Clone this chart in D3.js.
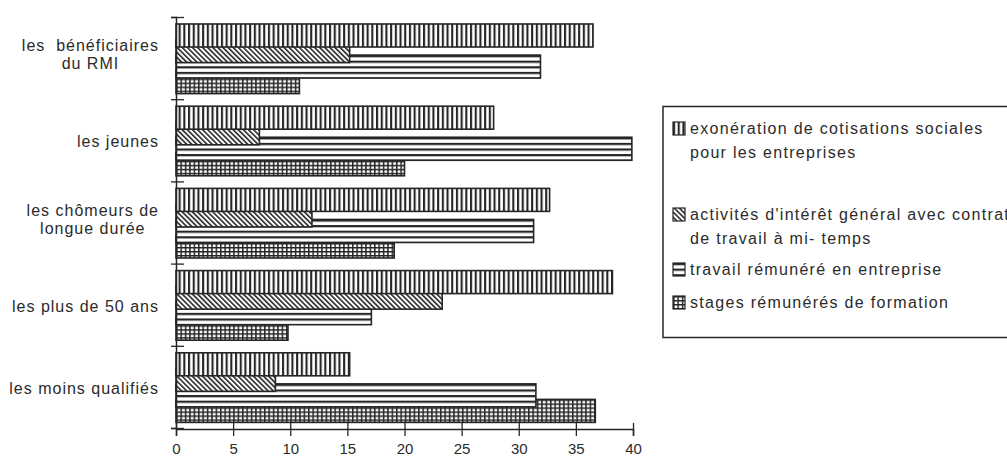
<!DOCTYPE html>
<html>
<head>
<meta charset="utf-8">
<script src="https://cdn.jsdelivr.net/npm/d3@7"></script>
<style>
  html, body { margin: 0; padding: 0; background: #fff; }
  svg { display: block; }
  text { font-family: "Liberation Sans", Arial, Helvetica, sans-serif; fill: #2b2b2b; white-space: pre; }
</style>
</head>
<body>
<svg id="chart" width="1007" height="465"></svg>
<script>
// Publics ciblés (each entry is the list of lines of its label)
const categories = [
  ["les  bénéficiaires", "du RMI"],
  ["les jeunes"],
  ["les chômeurs de", "longue durée"],
  ["les plus de 50 ans"],
  ["les moins qualifiés"]
];

// Values of the four measures, one per public
const exoneration = [36.5, 27.8, 32.7, 38.2, 15.2];
const activites   = [15.2, 7.3, 11.9, 23.3, 8.7];
const travail     = [31.9, 39.9, 31.3, 17.1, 31.5];
const stages      = [10.8, 20.0, 19.1, 9.8, 36.7];

const seriesNames = [
  ["exonération de cotisations sociales", "pour les entreprises"],
  ["activités d'intérêt général avec contrat", "de travail à mi- temps"],
  ["travail rémunéré en entreprise"],
  ["stages rémunérés de formation"]
];
const seriesValues = [exoneration, activites, travail, stages];
const patternIds = ["pat-vert", "pat-diag", "pat-horiz", "pat-grid"];

const xTicks = [0, 5, 10, 15, 20, 25, 30, 35, 40];

const ink = "#262626";
const svg = d3.select("#chart");

// ---- hatch patterns ----
const defs = svg.append("defs");
function pattern(id, w, h) {
  const p = defs.append("pattern").attr("id", id)
    .attr("patternUnits", "userSpaceOnUse").attr("width", w).attr("height", h);
  p.append("rect").attr("width", w).attr("height", h).attr("fill", "#fff");
  return p;
}
pattern("pat-vert", 4.7, 10).append("rect")
  .attr("x", 0).attr("y", 0).attr("width", 2.1).attr("height", 10).attr("fill", ink);
pattern("pat-diag", 3.6, 4).attr("patternTransform", "rotate(-45)").append("rect")
  .attr("x", 0).attr("y", 0).attr("width", 1.6).attr("height", 4).attr("fill", ink);
pattern("pat-horiz", 10, 5.6).append("rect")
  .attr("x", 0).attr("y", 0).attr("width", 10).attr("height", 2.2).attr("fill", ink);
const g4 = pattern("pat-grid", 4.4, 4);
g4.append("rect").attr("x", 0).attr("y", 0).attr("width", 1.5).attr("height", 4).attr("fill", ink);
g4.append("rect").attr("x", 0).attr("y", 0).attr("width", 4.4).attr("height", 1.5).attr("fill", ink);

// ---- scales ----
const x = d3.scaleLinear().domain([0, 40]).range([176, 633]);
const y = d3.scaleBand().domain(d3.range(categories.length)).range([17, 428]).padding(0);
const bw = y.bandwidth();
const barTop = bw * 0.085;     // gap above first bar of a group
const barStep = bw * 0.189;    // bars overlap: step smaller than height
const barH = bw * 0.28;

// ---- bars (last series drawn first so the first one sits on top) ----
const barsG = svg.append("g");
for (let s = seriesValues.length - 1; s >= 0; s--) {
  seriesValues[s].forEach((v, i) => {
    const g = barsG.append("g")
      .attr("transform", `translate(0,${y(i) + barTop + s * barStep})`);
    g.append("rect")
      .attr("x", x(0)).attr("y", 0)
      .attr("width", x(v) - x(0)).attr("height", barH)
      .attr("fill", `url(#${patternIds[s]})`)
      .attr("stroke", ink).attr("stroke-width", 1.6);
  });
}

// ---- x axis ----
const xAxis = svg.append("g").attr("transform", "translate(0,429)")
  .call(d3.axisBottom(x).tickValues(xTicks).tickSizeOuter(0).tickSize(7));
xAxis.select(".domain").attr("stroke", ink).attr("stroke-width", 1.5);
xAxis.selectAll(".tick line").attr("y1", -6).attr("y2", 7).attr("stroke", ink).attr("stroke-width", 1.3);
xAxis.selectAll(".tick text").attr("y", 14).attr("font-size", 15)
  .attr("font-family", "Liberation Sans, Arial, sans-serif").attr("fill", "#2b2b2b");

// ---- y axis (ticks on group boundaries) ----
const yEdge = d3.scaleLinear().domain([0, categories.length]).range([17, 428]);
const yAxis = svg.append("g").attr("transform", `translate(${x(0)},0)`)
  .call(d3.axisLeft(yEdge).ticks(categories.length).tickFormat("").tickSizeOuter(0).tickSize(5));
yAxis.select(".domain").attr("stroke", ink).attr("stroke-width", 1.5);
yAxis.selectAll(".tick line").attr("x1", -5).attr("x2", 8).attr("stroke", ink).attr("stroke-width", 1.3);

// ---- category labels ----
const labelRight = 159;
categories.forEach((lines, i) => {
  const cy = y(i) + bw / 2;
  const t = svg.append("text")
    .attr("font-size", 16).attr("letter-spacing", 1)
    .attr("text-anchor", "middle");
  const lh = 18;
  const y0 = lines.length > 1 ? cy - lh / 2 + 2 : cy + 7;
  lines.forEach((ln, k) => t.append("tspan").attr("x", 0).attr("y", y0 + k * lh).text(ln));
  // right-align the block on its widest line, centring shorter lines
  const w = t.node().getBBox().width;
  t.selectAll("tspan").attr("x", labelRight - w / 2);
});

// ---- legend ----
const lg = svg.append("g");
lg.append("rect").attr("x", 663).attr("y", 106.5).attr("width", 400).attr("height", 231)
  .attr("fill", "none").attr("stroke", ink).attr("stroke-width", 1.5);
const itemY = [129, 215, 270, 303];
seriesNames.forEach((lines, s) => {
  const gy = itemY[s];
  const ig = lg.append("g").attr("transform", `translate(673,${gy - 7})`);
  ig.append("rect").attr("width", 12).attr("height", 13)
    .attr("fill", `url(#${patternIds[s]})`).attr("stroke", ink).attr("stroke-width", 1.2);
  const t = lg.append("text").attr("font-size", 16).attr("letter-spacing", 1.3);
  lines.forEach((ln, k) => t.append("tspan").attr("x", 690).attr("y", gy + 5 + k * 24).text(ln));
});
</script>
</body>
</html>
